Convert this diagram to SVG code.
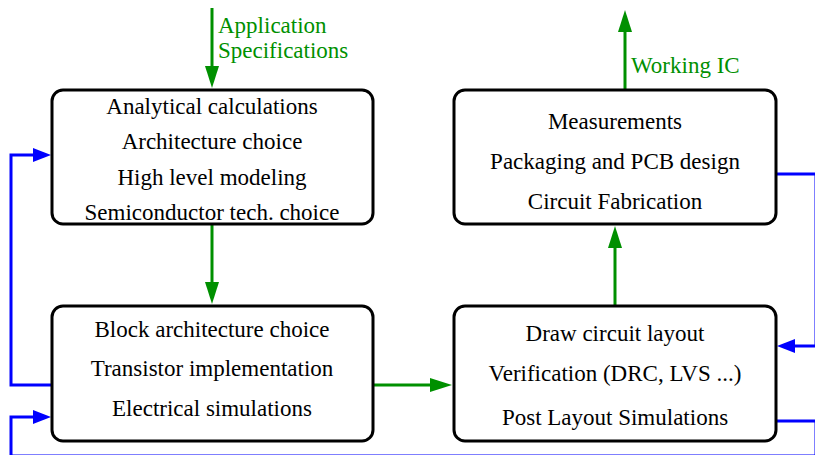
<svg xmlns="http://www.w3.org/2000/svg" width="815" height="455" viewBox="0 0 815 455">
<style>
.box{fill:#fff;stroke:#000;stroke-width:3}
.t{font-family:"Liberation Serif","Times New Roman",Times,serif;font-size:23px;fill:#000;text-anchor:middle}
.gl{font-family:"Liberation Serif","Times New Roman",Times,serif;font-size:23px;fill:#009000}
.g{stroke:#009000;stroke-width:3;fill:none}
.b{stroke:#0000ff;stroke-width:3;fill:none}
.ga{fill:#009000}
.ba{fill:#0000ff}
</style>
<rect width="815" height="455" fill="#fff"/>
<g id="connectors">
<line class="g" x1="212" y1="8" x2="212" y2="70"/>
<polygon class="ga" points="205,66 219,66 212,88"/>
<line class="g" x1="212" y1="225" x2="212" y2="286"/>
<polygon class="ga" points="205,282 219,282 212,304"/>
<line class="g" x1="373" y1="385" x2="434" y2="385"/>
<polygon class="ga" points="430,378 430,392 452,385"/>
<line class="g" x1="615" y1="305" x2="615" y2="244"/>
<polygon class="ga" points="608,248 622,248 615,226"/>
<line class="g" x1="625" y1="89" x2="625" y2="28"/>
<polygon class="ga" points="618,32 632,32 625,10"/>
<polyline class="b" points="51,385 11,385 11,155 36,155"/>
<polygon class="ba" points="33,148 33,162 51,155"/>
<polyline class="b" points="11,456 11,417 36,417"/>
<polygon class="ba" points="33,410 33,424 51,417"/>
<line class="b" x1="11" y1="456" x2="817" y2="456"/>
<polyline class="b" points="777,174 816,174 816,346 792,346"/>
<polygon class="ba" points="795,339 795,353 777,346"/>
<polyline class="b" points="777,421 816,421 816,456"/>
<text class="gl" x="218" y="33">Application</text>
<text class="gl" x="218" y="58">Specifications</text>
<text class="gl" x="631" y="73">Working IC</text>
</g>
<g id="n1">
<rect class="box" x="52" y="90" width="321" height="134" rx="11"/>
<text class="t" x="212" y="114">Analytical calculations</text>
<text class="t" x="212" y="149">Architecture choice</text>
<text class="t" x="212" y="185">High level modeling</text>
<text class="t" x="212" y="220">Semiconductor tech. choice</text>
</g>
<g id="n2">
<rect class="box" x="52" y="306" width="321" height="135" rx="11"/>
<text class="t" x="212" y="337">Block architecture choice</text>
<text class="t" x="212" y="376">Transistor implementation</text>
<text class="t" x="212" y="416">Electrical simulations</text>
</g>
<g id="n3">
<rect class="box" x="454" y="90" width="322" height="134" rx="11"/>
<text class="t" x="615" y="129">Measurements</text>
<text class="t" x="615" y="169">Packaging and PCB design</text>
<text class="t" x="615" y="209">Circuit Fabrication</text>
</g>
<g id="n4">
<rect class="box" x="454" y="306" width="322" height="135" rx="11"/>
<text class="t" x="615" y="341">Draw circuit layout</text>
<text class="t" x="615" y="381">Verification (DRC, LVS ...)</text>
<text class="t" x="615" y="425">Post Layout Simulations</text>
</g>
</svg>
